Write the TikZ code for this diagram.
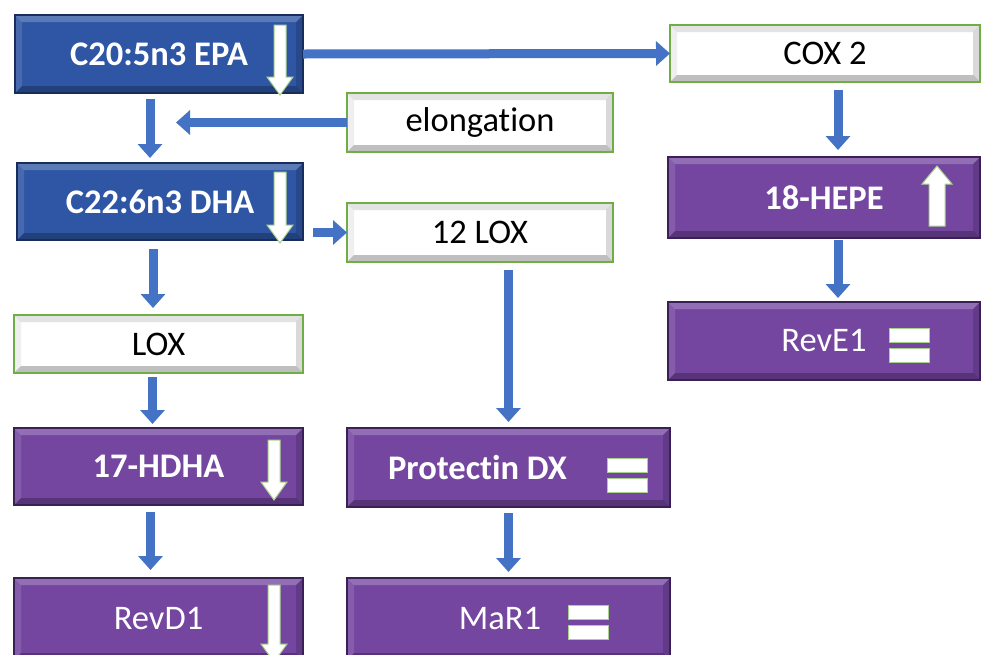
\documentclass[tikz,border=0pt]{standalone}
\usepackage{fontspec}
\setmainfont{Carlito}[Ligatures=NoCommon]
\usetikzlibrary{arrows.meta}

\definecolor{fatblue}{RGB}{46,86,164}
\definecolor{fatedge}{RGB}{24,45,92}
\definecolor{medpurple}{RGB}{116,70,160}
\definecolor{mededge}{RGB}{58,32,84}
\definecolor{medtop}{RGB}{176,118,56}
\definecolor{enzgreen}{RGB}{112,173,71}
\definecolor{flowblue}{RGB}{68,114,196}
\definecolor{marklime}{RGB}{169,209,142}

\tikzset{
  box/.style={rectangle, inner sep=0pt, outer sep=0pt, font=\fontsize{34.5}{40}\selectfont},
  bevel/.style={path picture={
      \fill[#1, opacity=0.22] (path picture bounding box.north west) -- (path picture bounding box.north east)
        -- ([xshift=-7pt,yshift=-7pt]path picture bounding box.north east)
        -- ([xshift=7pt,yshift=-7pt]path picture bounding box.north west) -- cycle;
      \fill[#1, opacity=0.12] (path picture bounding box.north west) -- ([xshift=7pt,yshift=-7pt]path picture bounding box.north west)
        -- ([xshift=7pt,yshift=7pt]path picture bounding box.south west) -- (path picture bounding box.south west) -- cycle;
      \fill[black, opacity=0.25] (path picture bounding box.south west) -- (path picture bounding box.south east)
        -- ([xshift=-7pt,yshift=7pt]path picture bounding box.south east)
        -- ([xshift=7pt,yshift=7pt]path picture bounding box.south west) -- cycle;
      \fill[black, opacity=0.15] (path picture bounding box.north east) -- ([xshift=-7pt,yshift=-7pt]path picture bounding box.north east)
        -- ([xshift=-7pt,yshift=7pt]path picture bounding box.south east) -- (path picture bounding box.south east) -- cycle;
    }},
  fatbox/.style={box, fill=fatblue, draw=fatedge, line width=1.5pt, text=white, font=\fontsize{34.5}{40}\selectfont\bfseries, bevel=white},
  medbox/.style={box, fill=medpurple, draw=mededge, line width=1.5pt, text=white, bevel=white,
    append after command={\pgfextra{\draw[medtop, line width=2pt] (\tikzlastnode.north west) -- (\tikzlastnode.north east);}}},
  enzbox/.style={box, fill=white, draw=enzgreen, line width=1.5pt, text=black, bevel=gray},
  flow/.style={draw=flowblue, line width=9pt, -{Triangle[width=24pt,length=14pt]}},
  levelmark/.style={fill=white, draw=marklime, line width=1pt},
}

% white level marks inside the boxes
\newcommand{\leveldown}[3]{%
  \filldraw[levelmark] (#1-6,#2) -- (#1+6,#2) -- (#1+6,#3-18) -- (#1+13,#3-18)
    -- (#1,#3) -- (#1-13,#3-18) -- (#1-6,#3-18) -- cycle;}
\newcommand{\levelup}[3]{%
  \filldraw[levelmark] (#1-8,#3) -- (#1+8,#3) -- (#1+8,#2+18) -- (#1+15,#2+18)
    -- (#1,#2) -- (#1-15,#2+18) -- (#1-8,#2+18) -- cycle;}
\newcommand{\levelsame}[2]{%
  \filldraw[levelmark] (#1-20,#2-17) rectangle (#1+20,#2-3);
  \filldraw[levelmark] (#1-20,#2+3) rectangle (#1+20,#2+17);}

\begin{document}
\begin{tikzpicture}[x=1pt, y=-1pt]
  \useasboundingbox[fill=white] (0,0) rectangle (982,654);

  % omega-3 fatty acids
  \node[fatbox, minimum width=288pt, minimum height=78pt] (epa) at (159,54) {C20:5n3 EPA};
  \node[fatbox, minimum width=286pt, minimum height=77pt] (dha) at (160,201.5) {C22:6n3 DHA};

  % enzymes
  \node[enzbox, minimum width=310pt, minimum height=57pt] (cox) at (825,53.5) {COX 2};
  \node[enzbox, minimum width=266pt, minimum height=59pt] (elong) at (480,122.5) {elongation};
  \node[enzbox, minimum width=266pt, minimum height=59pt] (lox12) at (480,232.5) {12 LOX};
  \node[enzbox, minimum width=289pt, minimum height=58pt] (lox) at (158.5,344) {LOX};

  % mediators
  \node[medbox, minimum width=312pt, minimum height=81pt, font=\fontsize{34.5}{40}\selectfont\bfseries] (hepe) at (824,197.5) {18-HEPE};
  \node[medbox, minimum width=312pt, minimum height=78pt] (reve) at (824,341) {RevE1};
  \node[medbox, minimum width=289pt, minimum height=77pt, font=\fontsize{34.5}{40}\selectfont\bfseries] (hdha) at (158.5,466.5) {17-HDHA};
  \node[medbox, minimum width=323pt, minimum height=79pt, font=\fontsize{34.5}{40}\selectfont\bfseries] (pdx) at (508.5,467.5) {Protectin DX\hspace*{62pt}};
  \node[medbox, minimum width=289pt, minimum height=82pt] (revd) at (158.5,619) {RevD1};
  \node[medbox, minimum width=323pt, minimum height=82pt] (mar) at (508.5,619) {MaR1\hspace*{17pt}};

  \coordinate (elongend) at (176,122.5);

  % pathways
  \draw[flow] (epa.east) -- (cox.west);
  \draw[flow, shorten <=6pt, shorten >=5pt] ([xshift=-9pt]epa.south) -- ([xshift=-9pt]epa.south |- dha.north);
  \draw[flow] (elong.west) -- (elongend);
  \draw[flow, shorten <=10pt] (dha.east |- lox12) -- (lox12.west);
  \draw[flow, shorten <=9pt, shorten >=7pt] ([xshift=-7pt]dha.south) -- ([xshift=-7pt]dha.south |- lox.north);
  \draw[flow, shorten <=4pt, shorten >=4pt] ([xshift=-6pt]lox.south) -- ([xshift=-6pt]lox.south |- hdha.north);
  \draw[flow, shorten <=7pt, shorten >=8pt] ([xshift=-8pt]hdha.south) -- ([xshift=-8pt]hdha.south |- revd.north);
  \draw[flow, shorten <=8pt, shorten >=6pt] (lox12.south -| pdx) -- (pdx.north);
  \draw[flow, shorten <=6pt, shorten >=6pt] (pdx.south) -- (mar.north);
  \draw[flow, shorten <=8pt, shorten >=7pt] ([xshift=13pt]cox.south) -- ([xshift=13pt]cox.south |- hepe.north);
  \draw[flow, shorten <=2pt, shorten >=4pt] ([xshift=14pt]hepe.south) -- ([xshift=14pt]hepe.south |- reve.north);

  % level changes
  \leveldown{280}{25}{95}
  \leveldown{280}{172}{243}
  \levelup{937}{166}{226}
  \leveldown{274}{440}{500}
  \leveldown{274}{585}{662}
  \levelsame{909}{345}
  \levelsame{627}{475}
  \levelsame{588}{622}
\end{tikzpicture}
\end{document}
